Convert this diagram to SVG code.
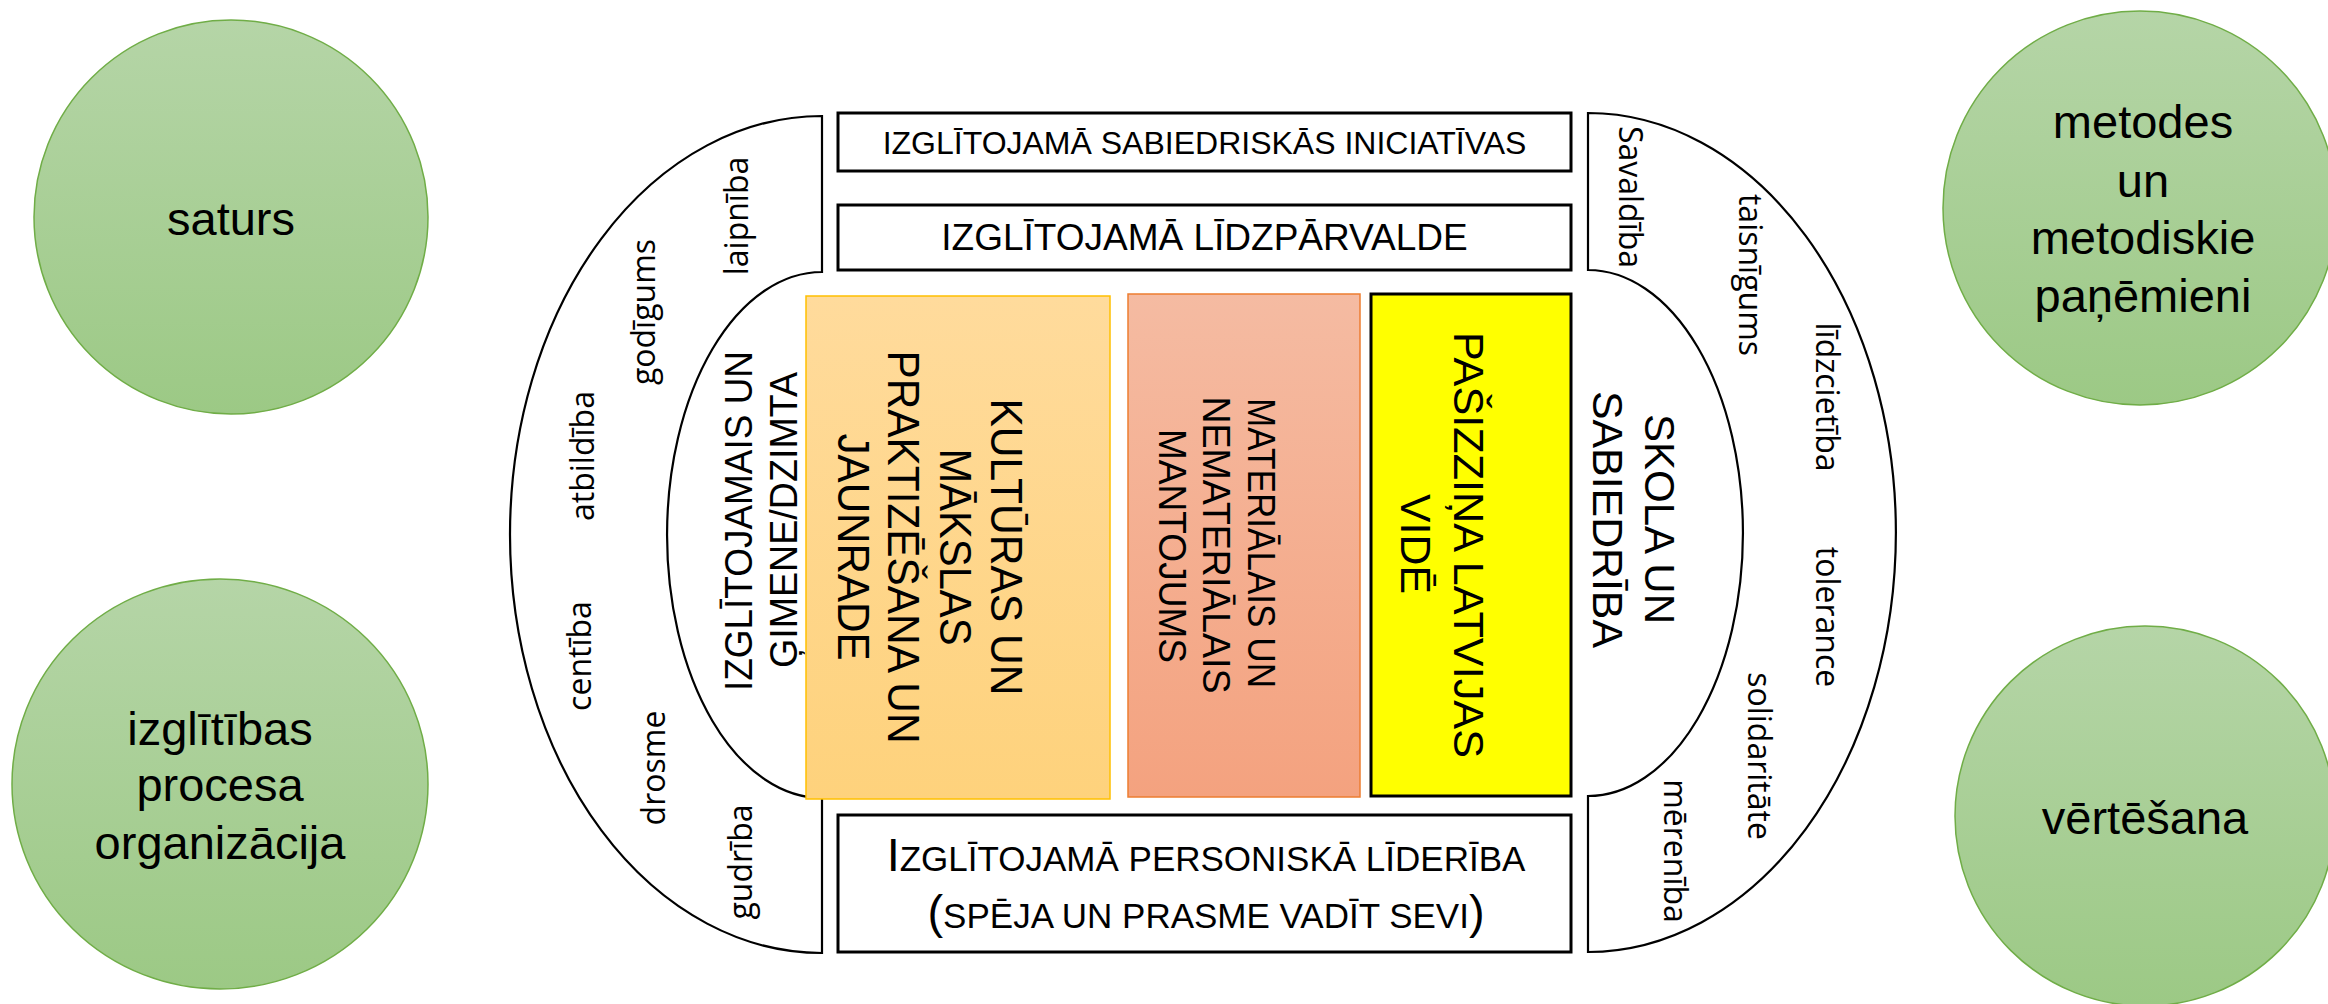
<svg xmlns="http://www.w3.org/2000/svg" width="2328" height="1004" viewBox="0 0 2328 1004">
<style>
.t{font-family:"Liberation Sans",Arial,sans-serif;fill:#000}
.w{font-family:"Open Sans","DejaVu Sans",sans-serif;font-size:32px;fill:#000;text-anchor:middle}
.c{font-size:47px;text-anchor:middle}
.box{fill:#fff;stroke:#000;stroke-width:3}
.br{fill:#fff;stroke:#000;stroke-width:2.2}
.circ{fill:url(#gGreen);stroke:#70AD47;stroke-width:1.5}
.v{text-anchor:middle}
</style>
<defs>
<linearGradient id="gGreen" x1="0" y1="0" x2="0" y2="1">
<stop offset="0" stop-color="#b5d5a7"/><stop offset="1" stop-color="#9cc985"/>
</linearGradient>
<linearGradient id="gOrange" x1="0" y1="0" x2="0" y2="1">
<stop offset="0" stop-color="#ffdb9c"/><stop offset="1" stop-color="#fed27c"/>
</linearGradient>
<linearGradient id="gSalmon" x1="0" y1="0" x2="0" y2="1">
<stop offset="0" stop-color="#f5bba2"/><stop offset="1" stop-color="#f4a27f"/>
</linearGradient>
</defs>

<g id="circle-saturs">
<circle class="circ" cx="231" cy="217" r="197"/>
<text class="t c" x="231" y="235">saturs</text>
</g>
<g id="circle-izglitibas">
<ellipse class="circ" cx="220" cy="784" rx="208" ry="205"/>
<text class="t c" x="220" y="745">izglītības</text>
<text class="t c" x="220" y="801">procesa</text>
<text class="t c" x="220" y="859">organizācija</text>
</g>
<g id="circle-metodes">
<circle class="circ" cx="2140" cy="208" r="197"/>
<text class="t c" x="2143" y="138">metodes</text>
<text class="t c" x="2143" y="197">un</text>
<text class="t c" x="2143" y="254">metodiskie</text>
<text class="t c" x="2143" y="312">paņēmieni</text>
</g>
<g id="circle-vertesana">
<circle class="circ" cx="2145" cy="816" r="190"/>
<text class="t c" x="2145" y="834">vērtēšana</text>
</g>

<g id="bracket-left">
<path class="br" d="M822,116 A312,418.5 0 0,0 822,953 L822,798 A155,263 0 0,1 822,272 Z"/>
<text class="w" transform="translate(748,216) rotate(-90)">laipnība</text>
<text class="w" transform="translate(655,312) rotate(-90)">godīgums</text>
<text class="w" transform="translate(594,456) rotate(-90)">atbildība</text>
<text class="w" transform="translate(591,656) rotate(-90)">centība</text>
<text class="w" transform="translate(665,768) rotate(-90)">drosme</text>
<text class="w" transform="translate(752,862) rotate(-90)">gudrība</text>
</g>
<g id="bracket-right">
<path class="br" d="M1588,113 A308,419.5 0 0,1 1588,952 L1588,796 A155,263 0 0,0 1588,270 Z"/>
<text class="w" transform="translate(1619,197) rotate(90)">Savaldība</text>
<text class="w" transform="translate(1739,275) rotate(90)">taisnīgums</text>
<text class="w" transform="translate(1816,397) rotate(90)">līdzcietība</text>
<text class="w" transform="translate(1816,617) rotate(90)">tolerance</text>
<text class="w" transform="translate(1748,756) rotate(90)">solidaritāte</text>
<text class="w" transform="translate(1664,851) rotate(90)">mērenība</text>
</g>

<g id="box-iniciativas">
<rect class="box" x="838" y="113" width="733" height="58"/>
<text class="t" x="1204.5" y="154" font-size="32" text-anchor="middle">IZGLĪTOJAMĀ SABIEDRISKĀS INICIATĪVAS</text>
</g>
<g id="box-lidzparvalde">
<rect class="box" x="838" y="205" width="733" height="65"/>
<text class="t" x="1204.5" y="250" font-size="37" text-anchor="middle">IZGLĪTOJAMĀ LĪDZPĀRVALDE</text>
</g>
<g id="box-lideriba">
<rect class="box" x="838" y="815" width="733" height="137"/>
<text class="t" x="1206" y="871" font-size="35" text-anchor="middle"><tspan font-size="47">I</tspan>ZGLĪTOJAMĀ PERSONISKĀ LĪDERĪBA</text>
<text class="t" x="1206" y="928" font-size="35" text-anchor="middle"><tspan font-size="47">(</tspan>SPĒJA UN PRASME VADĪT SEVI<tspan font-size="47">)</tspan></text>
</g>

<g id="label-gimene">
<text class="t v" font-size="38" transform="translate(752,521) rotate(-90)" textLength="340" lengthAdjust="spacingAndGlyphs">IZGLĪTOJAMAIS UN</text>
<text class="t v" font-size="38" transform="translate(797,520) rotate(-90)" textLength="296" lengthAdjust="spacingAndGlyphs">ĢIMENE/DZIMTA</text>
</g>

<g id="box-kultura">
<rect x="806" y="296" width="304" height="503" fill="url(#gOrange)" stroke="#ffc000" stroke-width="1.5"/>
<text class="t v" font-size="44" transform="translate(991,547) rotate(90)" textLength="297" lengthAdjust="spacingAndGlyphs">KULTŪRAS UN</text>
<text class="t v" font-size="44" transform="translate(940,547) rotate(90)" textLength="197" lengthAdjust="spacingAndGlyphs">MĀKSLAS</text>
<text class="t v" font-size="44" transform="translate(888,547) rotate(90)" textLength="393" lengthAdjust="spacingAndGlyphs">PRAKTIZĒŠANA UN</text>
<text class="t v" font-size="44" transform="translate(838,547) rotate(90)" textLength="227" lengthAdjust="spacingAndGlyphs">JAUNRADE</text>
</g>

<g id="box-mantojums">
<rect x="1128" y="294" width="232" height="503" fill="url(#gSalmon)" stroke="#ed7d31" stroke-width="1.5"/>
<text class="t v" font-size="38" transform="translate(1248,543) rotate(90)" textLength="290" lengthAdjust="spacingAndGlyphs">MATERIĀLAIS UN</text>
<text class="t v" font-size="38" transform="translate(1203,545) rotate(90)" textLength="297" lengthAdjust="spacingAndGlyphs">NEMATERIĀLAIS</text>
<text class="t v" font-size="38" transform="translate(1159,546) rotate(90)" textLength="234" lengthAdjust="spacingAndGlyphs">MANTOJUMS</text>
</g>

<g id="box-pasizzina">
<rect x="1371" y="294" width="200" height="502" fill="#ffff00" stroke="#000" stroke-width="3"/>
<text class="t v" font-size="43" transform="translate(1454,545) rotate(90)" textLength="426" lengthAdjust="spacingAndGlyphs">PAŠIZZIŅA LATVIJAS</text>
<text class="t v" font-size="43" transform="translate(1401,544) rotate(90)" textLength="100" lengthAdjust="spacingAndGlyphs">VIDĒ</text>
</g>

<g id="label-skola">
<text class="t v" font-size="43" transform="translate(1645,519) rotate(90)" textLength="210" lengthAdjust="spacingAndGlyphs">SKOLA UN</text>
<text class="t v" font-size="43" transform="translate(1593,519.5) rotate(90)" textLength="257" lengthAdjust="spacingAndGlyphs">SABIEDRĪBA</text>
</g>

<g id="connectors"></g>
</svg>
